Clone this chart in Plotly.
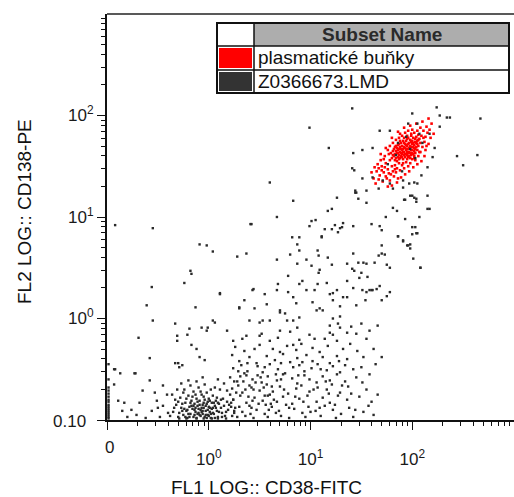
import plotly.graph_objects as go

# Events as (log10 FL1 CD38-FITC, log10 FL2 CD138-PE) pairs, grouped by region.

# gated population "plasmatické buňky"
plasma_core = [
    (1.82, 1.60), (1.85, 1.63), (1.88, 1.58), (1.90, 1.66), (1.93, 1.62), (1.95, 1.70), (1.97, 1.64), (2.00, 1.72), (2.02, 1.68), (2.05, 1.75),
    (1.84, 1.70), (1.87, 1.67), (1.89, 1.73), (1.92, 1.69), (1.94, 1.75), (1.96, 1.59), (1.99, 1.61), (2.01, 1.78), (2.03, 1.63), (2.06, 1.70),
    (1.81, 1.65), (1.83, 1.56), (1.86, 1.59), (1.88, 1.64), (1.91, 1.57), (1.93, 1.72), (1.96, 1.67), (1.98, 1.76), (2.00, 1.66), (2.04, 1.79),
    (1.85, 1.68), (1.87, 1.61), (1.90, 1.70), (1.92, 1.64), (1.95, 1.61), (1.97, 1.73), (1.99, 1.69), (2.01, 1.62), (2.03, 1.74), (2.07, 1.77),
    (1.80, 1.58), (1.83, 1.62), (1.86, 1.66), (1.89, 1.60), (1.91, 1.75), (1.94, 1.66), (1.96, 1.78), (1.98, 1.58), (2.02, 1.71), (2.05, 1.66),
    (1.84, 1.58), (1.87, 1.72), (1.90, 1.62), (1.92, 1.78), (1.95, 1.64), (1.97, 1.68), (2.00, 1.75), (2.02, 1.65), (2.04, 1.69), (2.08, 1.73),
    (1.82, 1.67), (1.85, 1.55), (1.88, 1.69), (1.91, 1.67), (1.93, 1.59), (1.96, 1.72), (1.98, 1.63), (2.01, 1.69), (2.03, 1.77), (2.06, 1.81),
    (1.86, 1.63), (1.89, 1.67), (1.92, 1.61), (1.94, 1.71), (1.97, 1.60), (1.99, 1.74), (2.02, 1.60), (2.04, 1.73), (1.88, 1.75), (1.95, 1.80),
    (1.81, 1.61), (1.84, 1.65), (1.90, 1.59), (1.93, 1.68), (1.96, 1.63), (1.99, 1.66), (2.01, 1.73), (2.05, 1.72), (1.87, 1.57), (1.94, 1.62),
    (1.83, 1.69), (1.86, 1.71), (1.89, 1.63), (1.92, 1.73), (1.95, 1.67), (1.98, 1.70), (2.00, 1.63), (2.03, 1.67), (2.06, 1.76), (1.91, 1.64),
]
plasma_rim = [
    (1.62, 1.38), (1.65, 1.45), (1.68, 1.41), (1.70, 1.50), (1.72, 1.44), (1.74, 1.53), (1.76, 1.47), (1.78, 1.56), (1.79, 1.42), (1.75, 1.38),
    (1.66, 1.52), (1.69, 1.56), (1.71, 1.35), (1.73, 1.60), (1.77, 1.62), (1.80, 1.50), (1.81, 1.45), (1.83, 1.51), (1.85, 1.48), (1.87, 1.53),
    (1.60, 1.44), (1.64, 1.33), (1.67, 1.48), (1.74, 1.40), (1.78, 1.36), (1.82, 1.40), (1.84, 1.44), (1.86, 1.38), (1.88, 1.46), (1.90, 1.51),
    (1.92, 1.48), (1.94, 1.54), (1.96, 1.50), (1.98, 1.53), (2.00, 1.57), (2.03, 1.56), (2.06, 1.60), (2.08, 1.64), (2.10, 1.69), (2.12, 1.74),
    (2.09, 1.80), (2.11, 1.85), (2.13, 1.79), (2.15, 1.83), (2.14, 1.89), (2.17, 1.86), (2.19, 1.92), (2.08, 1.88), (2.05, 1.85), (2.02, 1.83),
    (1.99, 1.82), (1.96, 1.85), (1.93, 1.83), (1.90, 1.80), (1.87, 1.78), (1.84, 1.76), (1.81, 1.73), (1.78, 1.70), (1.76, 1.66), (1.79, 1.63),
    (1.72, 1.57), (1.69, 1.62), (1.74, 1.68), (1.80, 1.78), (1.86, 1.84), (1.92, 1.88), (1.98, 1.90), (2.04, 1.92), (2.10, 1.94), (2.16, 1.97),
    (2.13, 1.66), (2.16, 1.72), (2.18, 1.78), (2.21, 1.82), (2.12, 1.60), (2.09, 1.55), (2.05, 1.52), (2.01, 1.49), (1.97, 1.45), (1.93, 1.42),
    (1.89, 1.39), (1.85, 1.34), (1.80, 1.31), (1.76, 1.30), (1.70, 1.46), (1.63, 1.49), (1.67, 1.37), (1.73, 1.49), (1.95, 1.57), (2.07, 1.64),
    (2.00, 1.86), (1.95, 1.77), (1.88, 1.82), (2.11, 1.78), (2.14, 1.70), (1.83, 1.47), (1.77, 1.43), (2.02, 1.58), (1.91, 1.53), (1.99, 1.80),
]

# all other events of Z0366673.LMD
debris = [
    (-0.35, -0.92), (-0.32, -0.85), (-0.30, -0.97), (-0.28, -0.78), (-0.27, -0.88), (-0.25, -0.95), (-0.24, -0.70), (-0.23, -0.83), (-0.22, -0.91), (-0.21, -0.98),
    (-0.20, -0.76), (-0.19, -0.87), (-0.18, -0.94), (-0.17, -0.81), (-0.16, -0.89), (-0.15, -0.97), (-0.15, -0.72), (-0.14, -0.84), (-0.13, -0.92), (-0.12, -0.79),
    (-0.12, -0.98), (-0.11, -0.86), (-0.10, -0.93), (-0.10, -0.68), (-0.09, -0.81), (-0.08, -0.90), (-0.08, -0.96), (-0.07, -0.75), (-0.06, -0.85), (-0.06, -0.94),
    (-0.05, -0.88), (-0.04, -0.80), (-0.04, -0.97), (-0.03, -0.91), (-0.02, -0.84), (-0.02, -0.73), (-0.01, -0.95), (0.00, -0.87), (0.00, -0.79), (0.01, -0.92),
    (0.02, -0.98), (0.03, -0.83), (0.03, -0.89), (0.04, -0.76), (0.05, -0.94), (0.06, -0.86), (0.07, -0.81), (0.08, -0.91), (0.09, -0.97), (0.10, -0.84),
    (0.11, -0.70), (0.12, -0.88), (0.13, -0.93), (0.14, -0.79), (0.15, -0.86), (0.16, -0.96), (0.18, -0.82), (0.19, -0.90), (0.21, -0.75), (0.22, -0.87),
    (-0.33, -0.80), (-0.29, -0.93), (-0.26, -0.84), (-0.23, -0.97), (-0.21, -0.90), (-0.18, -0.83), (-0.16, -0.77), (-0.14, -0.95), (-0.13, -0.88), (-0.11, -0.82),
    (-0.09, -0.95), (-0.07, -0.88), (-0.05, -0.77), (-0.03, -0.86), (-0.01, -0.90), (0.01, -0.81), (0.02, -0.94), (0.04, -0.88), (0.06, -0.98), (0.08, -0.78),
    (-0.19, -0.97), (-0.10, -0.89), (-0.06, -0.91), (0.00, -0.96), (0.05, -0.83), (0.10, -0.92), (-0.15, -0.86), (-0.24, -0.89), (0.13, -0.97), (-0.02, -0.98),
    (-0.38, -0.96), (-0.36, -0.75), (-0.31, -0.70), (-0.27, -0.64), (-0.18, -0.66), (-0.12, -0.62), (-0.04, -0.65), (0.06, -0.68), (0.15, -0.64), (0.23, -0.96),
    (-0.22, -0.985), (-0.12, -0.985), (-0.05, -0.985), (0.03, -0.985), (0.09, -0.985), (0.17, -0.985), (-0.29, -0.985),
    (-0.30, -0.82), (-0.26, -0.91), (-0.22, -0.79), (-0.20, -0.94), (-0.17, -0.86), (-0.14, -0.90), (-0.11, -0.94), (-0.09, -0.85),
    (-0.07, -0.92), (-0.05, -0.83), (-0.03, -0.95), (-0.01, -0.82), (0.01, -0.88), (0.04, -0.93), (0.07, -0.88), (0.09, -0.83),
    (0.12, -0.80), (0.17, -0.92), (0.20, -0.85), (-0.08, -0.72), (-0.13, -0.75), (0.02, -0.70), (-0.25, -0.73), (0.18, -0.71),
    (-0.34, -0.88), (0.24, -0.80), (0.25, -0.91), (-0.20, -0.61), (0.09, -0.60), (-0.06, -0.58),
]
low_fl1 = [
    (-0.92, -0.50), (-0.87, -0.54), (-0.72, -0.54), (-0.58, -0.61), (-0.65, -0.71), (-0.53, -0.73), (-0.83, -0.83), (-0.89, -0.81),
    (-0.85, -0.91), (-0.76, -0.90), (-0.71, -0.95), (-0.68, -0.83), (-0.56, -0.91), (-0.51, -0.81), (-0.48, -0.97), (-0.45, -0.86),
    (-0.41, -0.75), (-0.45, -0.66), (-0.40, -0.93), (-0.62, -0.98), (-0.80, -0.97), (-0.50, -0.88), (-0.93, -0.65),
    (-0.56, 0.31), (-0.61, 0.13), (-0.55, -0.02), (-0.69, -0.19), (-0.58, -0.39), (-0.93, -0.50), (-0.73, -0.54),
    (-0.24, 0.35), (-0.18, 0.47), (-0.17, 0.44), (-0.13, 0.11), (-0.33, -0.05), (-0.31, -0.17), (-0.31, -0.22),
    (-0.33, -0.44), (-0.29, -0.48), (-0.19, -0.10), (-0.07, -0.09), (-0.01, -0.09), (0.06, -0.04), (-0.12, -0.30),
    (-0.04, -0.41), (-0.09, -0.38), (-0.21, -0.16), (-0.17, -0.26), (-0.26, -0.46), (-0.30, -0.44),
]
fl1_zero = [
    (-0.985, -0.60), (-0.985, -0.68), (-0.985, -0.71), (-0.985, -0.74), (-0.985, -0.77), (-0.985, -0.80), (-0.985, -0.82),
    (-0.985, -0.85), (-0.985, -0.87), (-0.985, -0.89), (-0.985, -0.91), (-0.985, -0.93), (-0.985, -0.95), (-0.985, -0.97),
    (-0.985, -0.985), (-0.985, -0.45),
]
lymph_band = [
    (0.52, -0.15), (0.68, -0.19), (0.80, -0.13), (0.89, -0.21), (0.99, -0.16), (1.14, -0.20), (1.19, -0.14), (1.26, -0.22),
    (0.26, -0.28), (0.35, -0.32), (0.50, -0.26), (0.63, -0.30), (0.70, -0.33), (0.77, -0.27), (0.86, -0.31), (0.91, -0.25),
    (1.02, -0.29), (1.09, -0.33), (1.17, -0.27), (1.32, -0.30), (1.39, -0.25), (1.46, -0.32),
    (0.23, -0.36), (0.30, -0.42), (0.40, -0.38), (0.47, -0.44), (0.57, -0.37), (0.65, -0.41), (0.73, -0.35), (0.80, -0.43),
    (0.87, -0.39), (0.96, -0.36), (1.02, -0.42), (1.12, -0.38), (1.19, -0.44), (1.26, -0.37), (1.36, -0.40), (1.52, -0.38),
    (0.24, -0.49), (0.32, -0.46), (0.38, -0.52), (0.48, -0.47), (0.53, -0.53), (0.60, -0.45), (0.68, -0.50), (0.75, -0.54),
    (0.83, -0.48), (0.89, -0.46), (0.94, -0.52), (1.01, -0.49), (1.07, -0.45), (1.16, -0.51), (1.22, -0.47), (1.29, -0.53),
    (1.34, -0.46), (1.42, -0.50), (1.50, -0.48),
    (0.21, -0.58), (0.28, -0.62), (0.37, -0.56), (0.43, -0.60), (0.52, -0.63), (0.58, -0.57), (0.67, -0.61), (0.73, -0.55),
    (0.82, -0.59), (0.87, -0.64), (0.94, -0.56), (0.99, -0.60), (1.06, -0.63), (1.12, -0.57), (1.19, -0.61), (1.26, -0.55),
    (1.34, -0.62), (1.45, -0.58), (1.51, -0.63),
    (0.23, -0.69), (0.29, -0.66), (0.33, -0.73), (0.42, -0.68), (0.50, -0.71), (0.57, -0.65), (0.63, -0.72), (0.70, -0.67),
    (0.78, -0.74), (0.86, -0.69), (0.91, -0.66), (0.99, -0.72), (1.07, -0.68), (1.16, -0.70), (1.21, -0.65), (1.29, -0.73),
    (1.37, -0.67), (1.55, -0.70),
    (0.24, -0.80), (0.31, -0.76), (0.37, -0.83), (0.45, -0.78), (0.53, -0.81), (0.60, -0.75), (0.67, -0.82), (0.73, -0.77),
    (0.82, -0.84), (0.89, -0.79), (0.97, -0.76), (1.06, -0.82), (1.12, -0.78), (1.19, -0.83), (1.27, -0.76), (1.36, -0.80),
    (1.48, -0.77), (1.60, -0.82),
    (0.26, -0.88), (0.33, -0.92), (0.40, -0.86), (0.47, -0.90), (0.55, -0.94), (0.62, -0.87), (0.69, -0.91), (0.76, -0.85),
    (0.84, -0.89), (0.92, -0.93), (0.98, -0.87), (1.05, -0.91), (1.14, -0.86), (1.22, -0.90), (1.30, -0.94), (1.38, -0.88),
    (1.52, -0.92), (1.57, -0.86),
    (0.28, -0.97), (0.36, -0.96), (0.44, -0.98), (0.58, -0.97), (0.71, -0.96), (0.79, -0.98), (0.95, -0.97), (1.10, -0.96),
    (1.25, -0.98), (1.42, -0.97),
    (0.22, -0.83), (0.27, -0.73), (0.30, -0.87), (0.34, -0.62), (0.39, -0.77), (0.41, -0.94), (0.44, -0.70), (0.49, -0.84),
    (0.51, -0.58), (0.55, -0.76), (0.59, -0.90), (0.62, -0.67), (0.64, -0.80), (0.66, -0.55), (0.35, -0.54), (0.46, -0.63),
    (0.25, -0.93), (0.31, -0.57), (0.42, -0.88), (0.56, -0.85),
    (1.62, -0.95), (1.66, -0.75), (1.58, -0.55), (1.64, -0.45), (1.55, -0.20), (1.62, -0.30), (1.70, -0.38), (1.58, -0.12),
    (1.45, -0.15), (1.50, -0.05), (1.40, -0.08),
    (0.29, -0.52), (0.36, -0.70), (0.43, -0.81), (0.48, -0.56), (0.54, -0.68), (0.61, -0.84), (0.66, -0.93), (0.71, -0.60),
    (0.74, -0.70), (0.79, -0.88), (0.85, -0.77), (0.88, -0.56), (0.93, -0.82), (1.00, -0.92), (1.03, -0.70), (1.09, -0.88),
    (1.15, -0.62), (1.18, -0.74), (1.24, -0.85), (1.31, -0.66), (1.40, -0.74), (1.44, -0.90), (0.38, -0.44), (0.55, -0.48),
    (0.71, -0.44), (0.92, -0.43), (1.10, -0.50), (1.28, -0.42), (0.45, -0.30), (0.60, -0.22), (0.83, -0.26), (1.04, -0.20),
    (0.33, -0.20), (0.25, -0.62), (0.40, -0.66), (0.58, -0.76),
]
diagonal = [
    (0.41, 0.93), (-0.09, 0.73), (-0.02, 0.72), (0.04, 0.66), (0.28, 0.61), (0.37, 0.64), (0.67, 0.58), (0.80, 0.63),
    (0.87, 0.73), (0.89, 0.67), (0.96, 0.58), (0.87, 0.54), (1.07, 0.67), (1.08, 0.62), (1.09, 0.48), (1.08, 0.45),
    (1.17, 0.60), (1.21, 0.53), (0.99, 0.91), (1.05, 0.97), (1.11, 0.81), (1.24, 0.92), (1.29, 0.89), (1.32, 0.94),
    (1.36, 0.54), (1.42, 0.64), (1.41, 0.49), (1.43, 0.47), (1.47, 0.55), (1.50, 0.45), (1.52, 0.55), (1.55, 0.54),
    (1.56, 0.41), (1.60, 0.28), (1.63, 0.55), (1.67, 0.62), (1.70, 0.64), (1.70, 0.72), (1.73, 0.63), (1.75, 0.53),
    (1.78, 0.50), (1.70, 0.87), (1.60, 0.93), (1.86, 0.81), (1.48, 0.40), (1.51, 0.28), (1.55, 0.26), (1.58, 0.28),
    (1.61, 0.28), (1.65, 0.29), (1.68, 0.32), (1.78, 0.26), (1.75, 0.22), (1.70, 0.18), (1.54, 0.18), (1.45, 0.13),
    (1.42, 0.30), (1.36, 0.37), (1.16, 0.35), (1.19, 0.24), (1.22, 0.25), (1.26, 0.28), (1.22, 0.18), (1.29, 0.12),
    (1.36, 0.21), (1.32, 0.21), (1.29, 0.02), (1.22, 0.00), (1.27, -0.05), (1.19, -0.07), (1.29, -0.09), (1.22, -0.16),
    (1.36, -0.14), (1.12, 0.08), (1.09, 0.10), (1.06, 0.08), (1.02, 0.16), (1.07, 0.34), (1.04, 0.28), (0.96, 0.28),
    (0.89, 0.01), (0.87, -0.09), (0.83, -0.02), (0.77, -0.02), (0.70, 0.06), (0.70, -0.12), (0.60, -0.02), (0.53, -0.02),
    (0.50, -0.17), (0.40, -0.02), (0.37, -0.17), (0.30, 0.10), (0.11, 0.24), (0.04, -0.02), (-0.02, -0.12), (0.18, -0.12),
    (0.24, -0.22), (0.43, 0.28), (0.55, 0.24), (0.67, 0.28), (0.78, 0.42), (0.92, 0.37), (0.89, 0.34), (1.01, 0.52),
    (0.11, 0.25), (0.30, 0.11), (0.35, 0.18), (0.44, 0.29), (0.68, 0.34), (0.78, 0.26), (0.83, 0.21), (0.57, 0.14),
    (0.70, 0.08), (0.75, 0.05), (0.45, 0.10), (0.50, -0.04), (0.86, 0.15), (1.66, -0.07),
    (0.60, 1.34), (0.67, 1.00), (1.17, 1.06), (1.21, 1.08), (1.26, 1.19), (1.44, 1.24), (1.55, 1.14), (1.81, 1.09),
    (1.85, 1.06), (1.92, 1.17), (2.04, 1.15), (2.15, 1.08), (1.74, 1.00), (1.68, 0.91), (1.86, 0.81), (1.91, 0.77),
    (2.00, 0.83), (2.04, 0.84), (1.95, 0.72), (1.98, 0.69), (2.08, 0.50), (0.83, 1.16), (0.89, 0.80),
    (1.91, 1.36), (1.97, 1.33), (2.02, 1.34), (2.05, 1.33), (1.93, 1.17), (1.98, 1.21), (2.02, 1.19), (2.04, 1.18),
    (2.15, 1.21), (2.17, 1.08), (2.07, 1.00), (1.93, 0.98), (2.00, 0.90), (2.03, 0.90), (2.05, 0.84), (1.96, 0.72),
    (1.98, 0.73), (1.91, 0.76), (2.01, 0.59), (2.08, 0.50),
]
scattered = [
    (2.44, 1.60), (2.50, 1.51), (2.64, 1.61), (2.67, 1.97), (1.41, 2.07), (2.24, 2.08), (2.27, 2.00), (2.34, 1.98),
    (2.37, 1.98), (2.00, 2.02), (2.05, 1.92), (1.42, 1.63), (1.51, 1.66), (1.41, 1.48), (1.43, 1.46), (1.51, 1.38),
    (1.61, 1.39), (1.55, 1.26), (1.45, 1.24), (1.71, 1.36), (1.78, 1.33), (1.81, 1.28), (1.91, 1.29), (2.00, 1.21),
    (1.67, 1.28), (1.61, 1.68), (1.68, 1.85), (1.78, 1.85), (1.96, 1.92), (2.07, 1.82), (2.17, 1.82), (2.22, 1.68),
    (2.20, 1.59), (2.15, 1.49), (2.09, 1.41), (2.27, 1.89), (1.86, 1.73), (1.98, 1.67), (2.03, 1.58), (1.76, 1.52),
    (1.90, 1.45), (2.10, 1.73), (1.94, 1.79), (1.84, 1.61),
    (-0.92, 0.92), (-0.55, 0.89), (0.42, 0.93), (0.99, 1.88), (1.18, 1.68), (0.82, 0.80), (1.11, 0.80), (1.01, 0.96),
    (1.14, 0.88), (1.44, 1.26), (1.47, 1.18), (1.31, 0.90), (1.27, 0.85), (1.21, 0.88), (1.42, 0.91),
]

plasma = plasma_core + plasma_rim
others = debris + low_fl1 + fl1_zero + lymph_band + diagonal + scattered

# plot area in pixels (figure is 514 x 497)
W, H = 514, 497
L, R, T, B = 107, 0, 14, 77
PW, PH = W - L - R, H - T - B


def fx(px):
    return (px - L) / PW


def fy(py):
    return (H - B - py) / PH


fig = go.Figure()
fig.add_trace(go.Scatter(
    x=[10 ** a for a, _ in plasma], y=[10 ** b for _, b in plasma],
    mode="markers", marker=dict(symbol="square", size=2.6, color="#ff0000", line_width=0),
    name="plasmatické buňky", showlegend=False,
))
fig.add_trace(go.Scatter(
    x=[10 ** a for a, _ in others], y=[10 ** b for _, b in others],
    mode="markers", marker=dict(symbol="square", size=2.4, color="#2a2a2a", line_width=0),
    name="Z0366673.LMD", showlegend=False,
))

decades = [0.1, 1, 10, 100]
minor_vals = [m * d for d in [0.1, 1, 10, 100] for m in range(2, 10)]
tick_font = dict(family="Liberation Sans, Arial, sans-serif", size=17, color="#1a1a1a")

fig.update_xaxes(
    type="log", range=[-1, 3], showgrid=False, zeroline=False,
    showline=True, linecolor="#111", linewidth=2,
    tickmode="array", tickvals=decades,
    ticktext=["", "10<sup>0</sup>", "10<sup>1</sup>", "10<sup>2</sup>"],
    ticks="outside", ticklen=8, tickwidth=1, tickcolor="#111",
    tickfont=tick_font, ticklabelstandoff=15,
    minor=dict(tickmode="array", tickvals=minor_vals, ticks="outside", ticklen=4,
               tickwidth=1, tickcolor="#111", showgrid=False),
)
fig.update_yaxes(
    type="log", range=[-1, 3], showgrid=False, zeroline=False,
    showline=True, linecolor="#111", linewidth=2,
    tickmode="array", tickvals=decades,
    ticktext=["", "10<sup>0</sup>", "10<sup>1</sup>", "10<sup>2</sup>"],
    ticks="outside", ticklen=8, tickwidth=1, tickcolor="#111",
    tickfont=tick_font,
    minor=dict(tickmode="array", tickvals=minor_vals, ticks="outside", ticklen=4,
               tickwidth=1, tickcolor="#111", showgrid=False),
)

shapes = [
    # top frame line
    dict(type="line", xref="paper", yref="paper", x0=0, x1=1, y0=1, y1=1,
         line=dict(color="#222", width=1.5)),
]
# subset table
tx0, tx1, tcol = 217, 509, 254
ty = [23, 46, 70, 93]
shapes += [
    dict(type="rect", xref="paper", yref="paper", x0=fx(tcol), x1=fx(tx1), y0=fy(ty[1]), y1=fy(ty[0]),
         fillcolor="#adadad", line_width=0, layer="above"),
    dict(type="rect", xref="paper", yref="paper", x0=fx(tx0 + 2), x1=fx(tcol - 2), y0=fy(ty[2] - 2), y1=fy(ty[1] + 2),
         fillcolor="#ff0000", line_width=0, layer="above"),
    dict(type="rect", xref="paper", yref="paper", x0=fx(tx0 + 2), x1=fx(tcol - 2), y0=fy(ty[3] - 2), y1=fy(ty[2] + 2),
         fillcolor="#333333", line_width=0, layer="above"),
    dict(type="line", xref="paper", yref="paper", x0=fx(tx0), x1=fx(tx1), y0=fy(ty[1]), y1=fy(ty[1]),
         line=dict(color="#111", width=1.5), layer="above"),
    dict(type="line", xref="paper", yref="paper", x0=fx(tx0), x1=fx(tx1), y0=fy(ty[2]), y1=fy(ty[2]),
         line=dict(color="#111", width=1.5), layer="above"),
    dict(type="line", xref="paper", yref="paper", x0=fx(tcol), x1=fx(tcol), y0=fy(ty[3]), y1=fy(ty[0]),
         line=dict(color="#111", width=1.5), layer="above"),
    dict(type="rect", xref="paper", yref="paper", x0=fx(tx0), x1=fx(tx1), y0=fy(ty[3]), y1=fy(ty[0]),
         line=dict(color="#111", width=2), layer="above"),
]

label_font = dict(family="Liberation Sans, Arial, sans-serif", size=19, color="#111")
annotations = [
    dict(text="<b>Subset Name</b>", xref="paper", yref="paper", x=fx((tcol + tx1) / 2), y=fy((ty[0] + ty[1]) / 2),
         xanchor="center", yanchor="middle", showarrow=False, font=dict(label_font, color="#2a2a2a")),
    dict(text="plasmatické buňky", xref="paper", yref="paper", x=fx(tcol + 2), y=fy((ty[1] + ty[2]) / 2),
         xanchor="left", yanchor="middle", showarrow=False, font=label_font),
    dict(text="Z0366673.LMD", xref="paper", yref="paper", x=fx(tcol + 2), y=fy((ty[2] + ty[3]) / 2),
         xanchor="left", yanchor="middle", showarrow=False, font=label_font),
    dict(text="FL1 LOG:: CD38-FITC", xref="paper", yref="paper", x=fx(266), y=fy(487),
         xanchor="center", yanchor="middle", showarrow=False, font=label_font),
    dict(text="FL2 LOG:: CD138-PE", xref="paper", yref="paper", x=fx(25), y=fy(212), textangle=-90,
         xanchor="center", yanchor="middle", showarrow=False, font=label_font),
    # labels of the lowest channel on each axis
    dict(text="0", xref="paper", yref="paper", x=fx(109), y=fy(447),
         xanchor="center", yanchor="middle", showarrow=False, font=tick_font),
    dict(text="0.10", xref="paper", yref="paper", x=fx(88), y=fy(421),
         xanchor="right", yanchor="middle", showarrow=False, font=tick_font),
]

fig.update_layout(
    width=W, height=H,
    margin=dict(l=L, r=R, t=T, b=B, pad=0),
    paper_bgcolor="white", plot_bgcolor="white",
    shapes=shapes, annotations=annotations,
    showlegend=False,
)

fig.write_html("out.html")
